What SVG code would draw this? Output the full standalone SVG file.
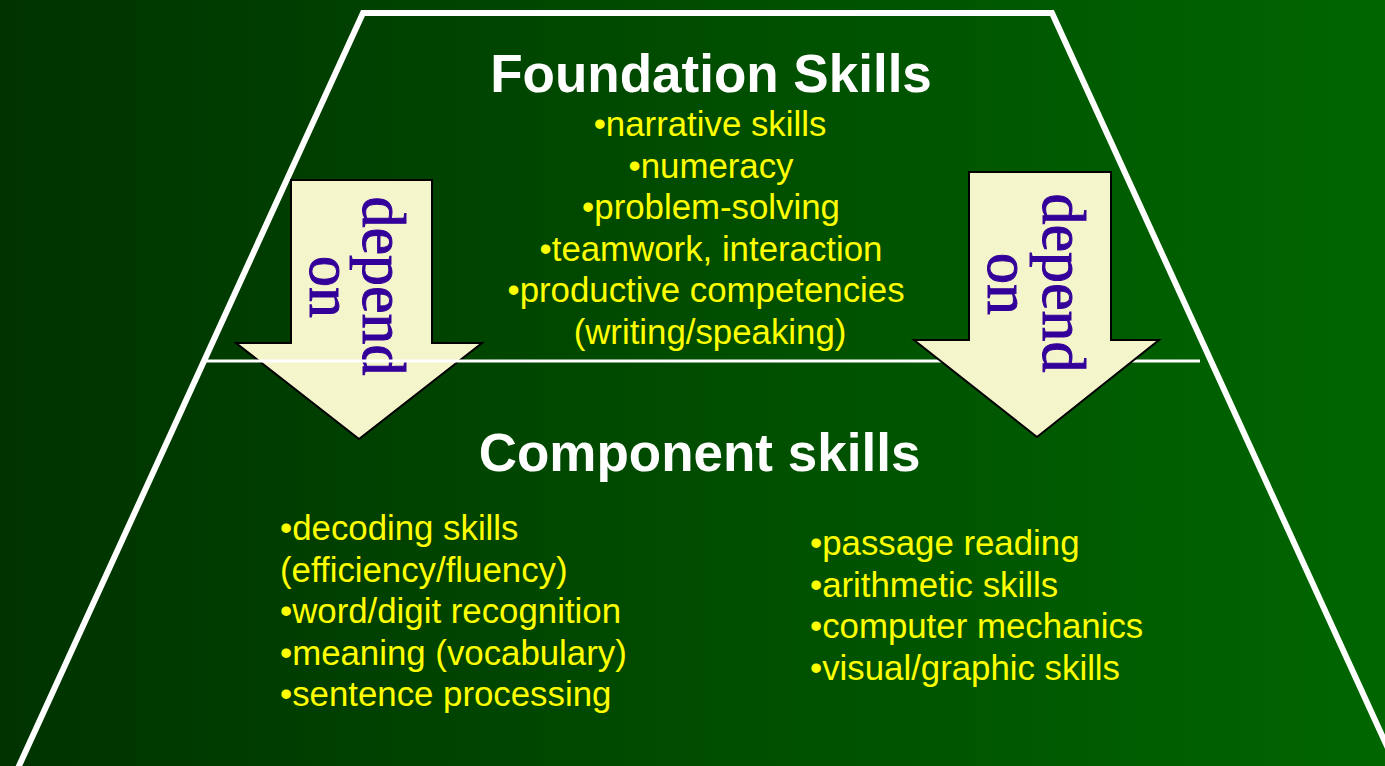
<svg xmlns="http://www.w3.org/2000/svg" width="1385" height="766" viewBox="0 0 1385 766">
  <defs>
    <linearGradient id="bg" x1="0" y1="0" x2="1" y2="0">
      <stop offset="0" stop-color="#003300"/>
      <stop offset="1" stop-color="#006600"/>
    </linearGradient>
    <style>
      .frame { fill: none; stroke: #ffffff; stroke-width: 6; stroke-linejoin: miter; }
      .divider { stroke: #ffffff; stroke-width: 3; }
      .arrow { fill: #f5f5cc; stroke: #000000; stroke-width: 2; stroke-linejoin: miter; }
      .title { font-family: "Liberation Sans", Arial, sans-serif; font-weight: bold; font-size: 53px; fill: #ffffff; }
      .item { font-family: "Liberation Sans", Arial, sans-serif; font-size: 34.8px; fill: #ffff00; }
      .mid { text-anchor: middle; }
      .dep { font-family: "Liberation Serif", "Times New Roman", serif; font-size: 62px; fill: #330099; stroke: #330099; stroke-width: 1; text-anchor: middle; }
    </style>
  </defs>

  <!-- background -->
  <rect x="0" y="0" width="1385" height="766" fill="url(#bg)"/>

  <!-- outer trapezoid -->
  <g id="frame">
    <polyline class="frame" points="8,790 363,13 1052,13 1407,790"/>
  </g>

  <!-- left arrow -->
  <g id="arrow-left">
    <polygon class="arrow" points="291,180 432,180 432,343 482,343 359,439 236,343 291,343"/>
    <text class="dep" transform="translate(363,286) rotate(90)">depend</text>
    <text class="dep" transform="translate(310,287) rotate(90)">on</text>
  </g>

  <!-- divider between the two tiers -->
  <g id="connectors">
    <line class="divider" x1="204" y1="361" x2="1200" y2="361"/>
  </g>

  <!-- right arrow -->
  <g id="arrow-right">
    <polygon class="arrow" points="969,172 1111,172 1111,340 1159,340 1037,437 914,340 969,340"/>
    <text class="dep" transform="translate(1043,283) rotate(90)">depend</text>
    <text class="dep" transform="translate(988,284) rotate(90)">on</text>
  </g>

  <!-- upper tier -->
  <g id="foundation">
    <text class="title mid" x="711" y="92">Foundation Skills</text>
    <text class="item mid" x="710" y="136">•narrative skills</text>
    <text class="item mid" x="711" y="177.5">•numeracy</text>
    <text class="item mid" x="711" y="219">•problem-solving</text>
    <text class="item mid" x="711" y="260.5">•teamwork, interaction</text>
    <text class="item mid" x="706" y="302">•productive competencies</text>
    <text class="item mid" x="710" y="343.5">(writing/speaking)</text>
  </g>

  <!-- lower tier -->
  <g id="component">
    <text class="title mid" x="699.5" y="471">Component skills</text>
  </g>

  <g id="component-left">
    <text class="item" x="280" y="540">•decoding skills</text>
    <text class="item" x="280" y="581.5">(efficiency/fluency)</text>
    <text class="item" x="280" y="623">•word/digit recognition</text>
    <text class="item" x="280" y="664.5">•meaning (vocabulary)</text>
    <text class="item" x="280" y="706">•sentence processing</text>
  </g>

  <g id="component-right">
    <text class="item" x="810" y="555">•passage reading</text>
    <text class="item" x="810" y="596.5">•arithmetic skills</text>
    <text class="item" x="810" y="638">•computer mechanics</text>
    <text class="item" x="810" y="679.5">•visual/graphic skills</text>
  </g>
</svg>
